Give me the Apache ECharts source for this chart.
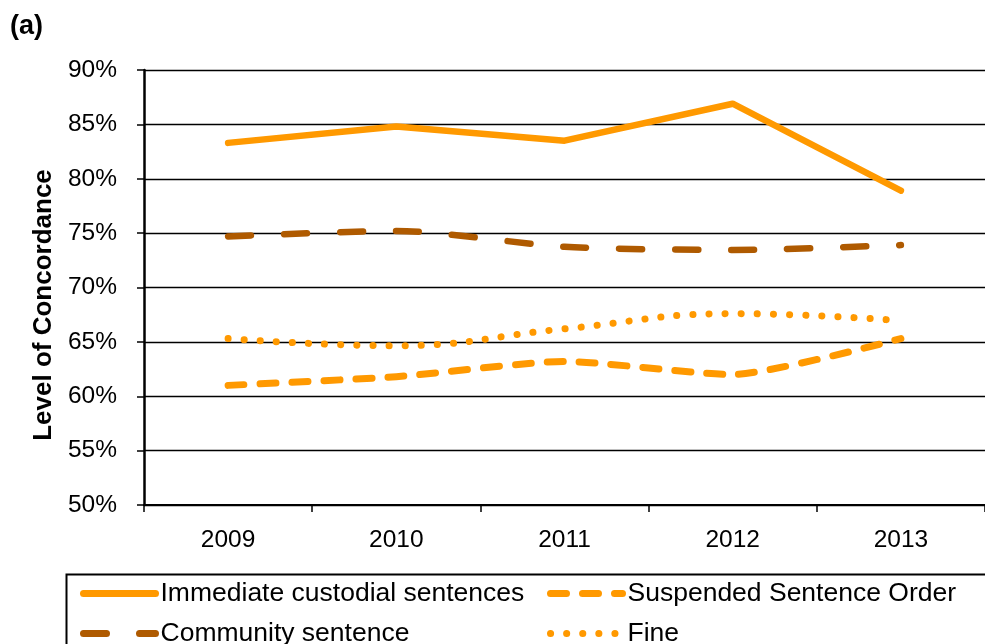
<!DOCTYPE html>
<html>
<head>
<meta charset="utf-8">
<script src="https://cdn.jsdelivr.net/npm/echarts@6/dist/echarts.min.js"></script>
<style>
  html, body { margin: 0; padding: 0; background: #ffffff; }
  #chart { width: 985px; height: 644px; }
</style>
</head>
<body>
<div id="chart"></div>
<script>
// ---- data ----
var years = ['2009', '2010', '2011', '2012', '2013'];
var immediateCustodial = [83.3, 84.8, 83.5, 86.9, 78.9];
var suspendedSentence = [61.0, 61.8, 63.2, 62.0, 65.3];
var communitySentence = [74.7, 75.2, 73.75, 73.45, 73.9];
var fine = [65.3, 64.65, 66.2, 67.6, 66.95];
var seriesNames = ['Immediate custodial sentences', 'Suspended Sentence Order', 'Community sentence', 'Fine'];
var yAxisTitle = 'Level of Concordance';
var panelLabel = '(a)';

var FONT = 'Liberation Sans, Arial, sans-serif';
var ORANGE = '#FF9900';
var BROWN = '#AF5A00';

var chart = echarts.init(document.getElementById('chart'), null, { renderer: 'canvas' });

function legendAt(name, left, top) {
  return {
    data: [name],
    orient: 'horizontal',
    left: left, top: top,
    padding: 0,
    itemWidth: 72, itemHeight: 14, itemGap: 0,
    textStyle: { color: '#000', fontSize: 26.5, fontFamily: FONT, padding: [0, 0, 0, 0] },
    itemStyle: { color: 'rgba(0,0,0,0)', borderWidth: 0, opacity: 0 },
    lineStyle: { width: 7 }
  };
}

var option = {
  backgroundColor: '#ffffff',
  animation: false,
  textStyle: { fontFamily: FONT },
  graphic: [
    {
      type: 'text', left: 10, top: 13,
      style: { text: panelLabel, font: 'bold 27px ' + FONT, fill: '#000' }
    },
    {
      type: 'text', x: 44, y: 305, rotation: Math.PI / 2,
      style: { text: yAxisTitle, font: 'bold 26px ' + FONT, fill: '#000', align: 'center', verticalAlign: 'middle' }
    },
    {
      type: 'rect', left: 64, top: 572, z: 0,
      shape: { width: 1000, height: 120 },
      style: { fill: 'none', stroke: '#000', lineWidth: 2 }
    }
  ],
  grid: { left: 144, right: 0, top: 70, bottom: 139, containLabel: false },
  xAxis: {
    type: 'category',
    data: years,
    boundaryGap: true,
    axisLine: { lineStyle: { color: '#000', width: 2 } },
    axisTick: { show: true, length: 7, alignWithLabel: false, interval: 0, lineStyle: { color: '#000', width: 1.5 } },
    axisLabel: { color: '#000', fontSize: 24.5, fontFamily: FONT, margin: 23 },
    splitLine: { show: false }
  },
  yAxis: {
    type: 'value',
    min: 50, max: 90, interval: 5,
    axisLine: { show: true, lineStyle: { color: '#000', width: 2.5 } },
    axisTick: { show: true, length: 7, lineStyle: { color: '#000', width: 1.5 } },
    axisLabel: { color: '#000', fontSize: 24.5, fontFamily: FONT, margin: 27, formatter: '{value}%' },
    splitLine: { show: true, lineStyle: { color: '#000', width: 1.4 } }
  },
  legend: [
    legendAt(seriesNames[0], 80, 580),
    legendAt(seriesNames[2], 80, 620),
    legendAt(seriesNames[1], 547, 580),
    legendAt(seriesNames[3], 547, 620)
  ],
  series: [
    {
      name: seriesNames[0], type: 'line', data: immediateCustodial,
      showSymbol: false, symbol: 'none', smooth: false, z: 5,
      lineStyle: { color: ORANGE, width: 6.5, type: 'solid', cap: 'round', join: 'round' },
      itemStyle: { color: ORANGE }
    },
    {
      name: seriesNames[1], type: 'line', data: suspendedSentence,
      showSymbol: false, symbol: 'none', smooth: 0.2, z: 4,
      lineStyle: { color: ORANGE, width: 7, type: [16, 16], cap: 'round', join: 'round' },
      itemStyle: { color: ORANGE }
    },
    {
      name: seriesNames[2], type: 'line', data: communitySentence,
      showSymbol: false, symbol: 'none', smooth: 0.25, z: 4,
      lineStyle: { color: BROWN, width: 6.5, type: [23, 33], cap: 'round', join: 'round' },
      itemStyle: { color: BROWN }
    },
    {
      name: seriesNames[3], type: 'line', data: fine,
      showSymbol: false, symbol: 'none', smooth: 0.45, z: 4,
      lineStyle: { color: ORANGE, width: 7, type: [0.1, 16], cap: 'round', join: 'round' },
      itemStyle: { color: ORANGE }
    }
  ]
};

chart.setOption(option);
</script>
</body>
</html>
